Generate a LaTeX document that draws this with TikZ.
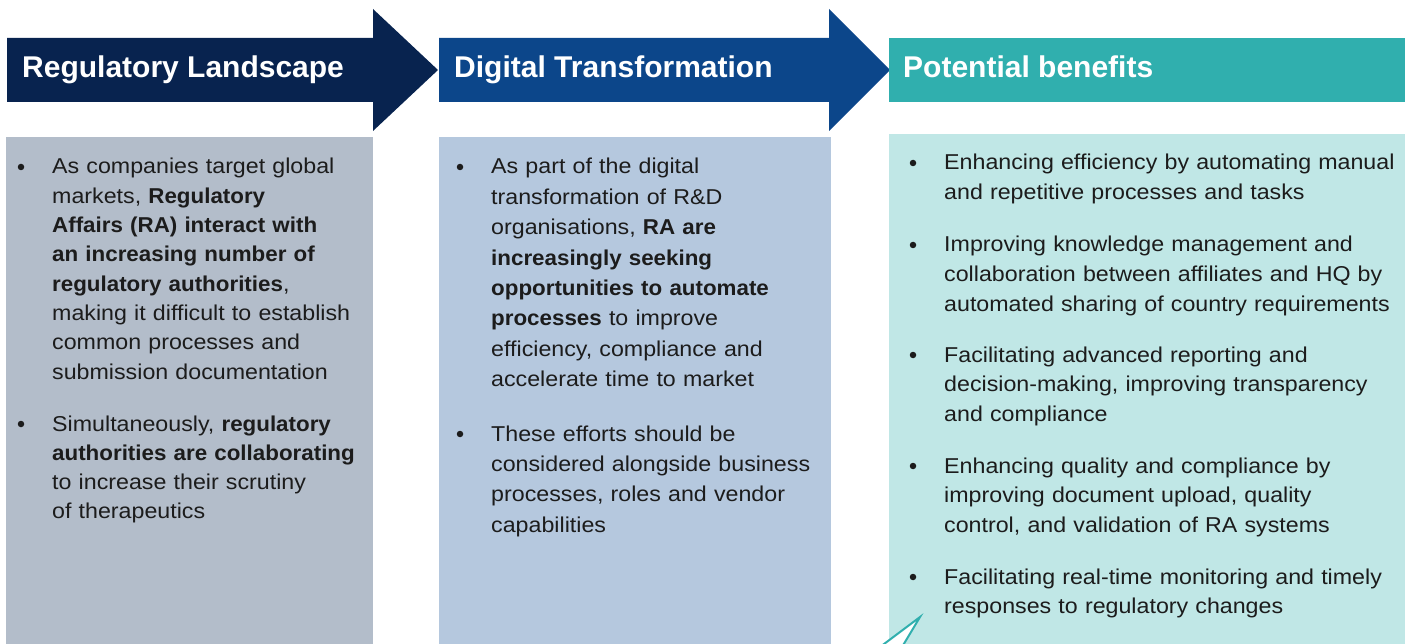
\documentclass[tikz,border=0pt]{standalone}
\usepackage{fontspec}
\setmainfont{Liberation Sans}[FakeStretch=1.08,BoldFeatures={FakeStretch=1.04}]
\newfontfamily\headfont{Liberation Sans}

\definecolor{navy}{HTML}{08234F}
\definecolor{royal}{HTML}{0C468A}
\definecolor{tealhead}{HTML}{30AFAE}
\definecolor{greybox}{HTML}{B3BDCA}
\definecolor{bluebox}{HTML}{B5C8DE}
\definecolor{tealbox}{HTML}{C0E7E6}
\definecolor{ink}{HTML}{1C1C1C}

\begin{document}
\begin{tikzpicture}[x=1pt, y=-1pt,
  head/.style={anchor=base west, inner sep=0pt, text=white, font=\headfont\bfseries\fontsize{30}{36}\selectfont},
  body/.style={anchor=base west, inner sep=0pt, align=left, text=ink, font=\fontsize{21.5}{29.3}\selectfont},
  dot/.style={circle, fill=ink, inner sep=0pt, minimum size=6.5pt}]
\useasboundingbox (0,0) rectangle (1410,644);

% header band
\fill[navy] (7,38) -- (373,38) -- (373,9) -- (438,70) -- (373,131) -- (373,102) -- (7,102) -- cycle;
\fill[royal] (439,38) -- (829,38) -- (829,9) -- (890,70) -- (829,131) -- (829,102) -- (439,102) -- cycle;
\fill[tealhead] (889,38) rectangle (1405,102);
\node[head] (h1) at (22,78) {Regulatory Landscape};
\node[head] (h2) at (454,78) {Digital Transformation};
\node[head] (h3) at (903,78) {Potential benefits};

% column boxes
\fill[greybox] (6,137) rectangle (373,644);
\fill[bluebox] (439,137) rectangle (831,644);
\fill[tealbox] (889,134) rectangle (1405,644);
\filldraw[fill=white, draw=tealhead, line width=2pt] (880,647) -- (920,617) -- (902,647);

% left column
\node[dot] (d1) at (21,167) {};
\node[body, text width=340pt] (t1) at (52,174) {As companies target global\\
  markets, \textbf{Regulatory}\\
  \textbf{Affairs (RA) interact with}\\
  \textbf{an increasing number of}\\
  \textbf{regulatory authorities},\\
  making it difficult to establish\\
  common processes and\\
  submission documentation};
\node[dot] (d2) at (21,424) {};
\node[body, text width=340pt] (t2) at (52,431) {Simultaneously, \textbf{regulatory}\\
  \textbf{authorities are collaborating}\\
  to increase their scrutiny\\
  of therapeutics};

% middle column
\node[dot] (d3) at (460,167) {};
\node[body, text width=340pt, font=\fontsize{21.5}{30.4}\selectfont] (t3) at (491,174) {As part of the digital\\
  transformation of R\&D\\
  organisations, \textbf{RA are}\\
  \textbf{increasingly seeking}\\
  \textbf{opportunities to automate}\\
  \textbf{processes} to improve\\
  efficiency, compliance and\\
  accelerate time to market};
\node[dot] (d4) at (460,434) {};
\node[body, text width=340pt, font=\fontsize{21.5}{30.4}\selectfont] (t4) at (491,441) {These efforts should be\\
  considered alongside business\\
  processes, roles and vendor\\
  capabilities};

% right column
\node[dot] (d5) at (913,163) {};
\node[body, text width=460pt, font=\fontsize{21.5}{29.5}\selectfont] (t5) at (944,170) {Enhancing efficiency by automating manual\\
  and repetitive processes and tasks};
\node[dot] (d6) at (913,245) {};
\node[body, text width=460pt, font=\fontsize{21.5}{29.5}\selectfont] (t6) at (944,252) {Improving knowledge management and\\
  collaboration between affiliates and HQ by\\
  automated sharing of country requirements};
\node[dot] (d7) at (913,355) {};
\node[body, text width=460pt, font=\fontsize{21.5}{29.5}\selectfont] (t7) at (944,362) {Facilitating advanced reporting and\\
  decision-making, improving transparency\\
  and compliance};
\node[dot] (d8) at (913,466) {};
\node[body, text width=460pt, font=\fontsize{21.5}{29.5}\selectfont] (t8) at (944,473) {Enhancing quality and compliance by\\
  improving document upload, quality\\
  control, and validation of RA systems};
\node[dot] (d9) at (913,577) {};
\node[body, text width=460pt, font=\fontsize{21.5}{29.5}\selectfont] (t9) at (944,584) {Facilitating real-time monitoring and timely\\
  responses to regulatory changes};
\end{tikzpicture}
\end{document}
